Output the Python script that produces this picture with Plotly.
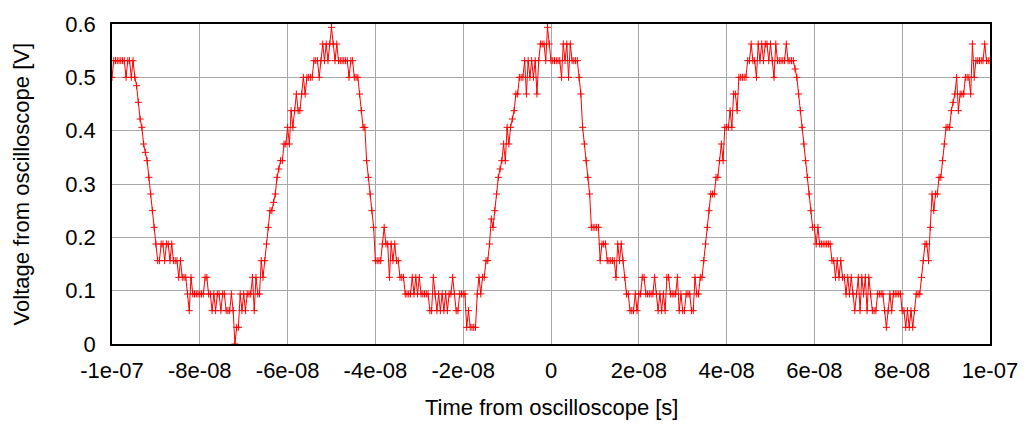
import plotly.graph_objects as go

# Oscilloscope record: 501 samples, 0.4 ns apart, starting at -100 ns
T_START = -1e-07
T_STEP = 4e-10
LSB_V = 1.0 / 64.0  # volts per ADC code

# ADC codes (units of 1/64 V), in blocks of 50 samples
codes_000 = [32, 34, 34, 34, 34, 34, 34, 34, 32, 34, 34, 32, 34, 32, 31, 29, 27, 26, 24, 23,
             22, 20, 18, 16, 14, 12, 10, 10, 12, 12, 10, 12, 12, 10, 12, 10, 10, 10, 8, 10,
             8, 8, 8, 6, 4, 8, 6, 6, 6, 6]
codes_050 = [6, 6, 6, 8, 8, 6, 6, 4, 6, 4, 6, 6, 4, 6, 6, 4, 4, 4, 6, 4,
             0, 2, 2, 6, 4, 6, 4, 6, 6, 6, 8, 4, 8, 6, 6, 10, 8, 10, 12, 14,
             16, 16, 17, 18, 20, 21, 22, 22, 24, 24]
codes_100 = [26, 24, 28, 26, 28, 30, 28, 28, 30, 32, 30, 32, 32, 32, 32, 34, 34, 34, 32, 34,
             36, 34, 36, 34, 36, 38, 36, 34, 36, 34, 34, 34, 34, 34, 34, 32, 34, 34, 32, 32,
             32, 30, 28, 26, 26, 22, 20, 18, 16, 14]
codes_150 = [10, 10, 10, 10, 12, 14, 12, 12, 8, 12, 10, 12, 10, 10, 8, 8, 8, 6, 6, 6,
             6, 8, 6, 8, 6, 8, 6, 6, 6, 6, 6, 4, 4, 8, 6, 4, 6, 4, 6, 4,
             6, 4, 6, 6, 8, 6, 4, 4, 6, 6]
codes_200 = [6, 6, 2, 4, 2, 2, 2, 2, 6, 8, 6, 8, 8, 10, 10, 12, 15, 14, 16, 18,
             20, 21, 22, 24, 22, 26, 24, 26, 27, 28, 30, 30, 32, 32, 32, 34, 30, 34, 32, 34,
             32, 34, 30, 34, 36, 36, 36, 34, 38, 36]
codes_250 = [34, 34, 34, 34, 34, 34, 32, 36, 34, 36, 32, 36, 34, 34, 34, 34, 32, 30, 26, 24,
             22, 20, 18, 14, 14, 14, 14, 14, 10, 12, 12, 12, 10, 10, 10, 10, 10, 8, 12, 10,
             12, 10, 8, 6, 6, 4, 4, 4, 6, 4]
codes_300 = [6, 6, 8, 8, 6, 6, 6, 6, 6, 8, 6, 4, 6, 4, 6, 4, 8, 8, 6, 6,
             6, 6, 8, 4, 6, 4, 4, 6, 6, 6, 4, 4, 8, 6, 6, 8, 8, 10, 12, 14,
             16, 18, 18, 18, 20, 20, 22, 24, 22, 26]
codes_350 = [26, 26, 28, 26, 30, 30, 28, 32, 32, 32, 32, 32, 34, 34, 36, 34, 34, 32, 36, 34,
             36, 34, 36, 36, 34, 36, 34, 32, 36, 34, 34, 34, 34, 34, 36, 34, 34, 34, 34, 33,
             32, 30, 28, 26, 24, 22, 20, 18, 16, 14]
codes_400 = [14, 12, 14, 12, 12, 12, 12, 12, 12, 12, 10, 10, 8, 10, 8, 10, 8, 8, 6, 8,
             6, 8, 6, 4, 6, 8, 4, 8, 6, 8, 4, 8, 6, 4, 4, 4, 6, 6, 6, 6,
             4, 2, 4, 6, 4, 6, 6, 6, 6, 6]
codes_450 = [4, 4, 2, 4, 2, 4, 2, 4, 6, 6, 6, 8, 10, 12, 12, 10, 14, 18, 16, 18,
             18, 20, 20, 22, 24, 26, 26, 26, 28, 29, 30, 32, 28, 30, 30, 30, 32, 32, 32, 30,
             36, 32, 34, 34, 34, 34, 34, 36, 34, 34, 34]

x_tickvals = [-1e-07, -8e-08, -6e-08, -4e-08, -2e-08, 0, 2e-08, 4e-08, 6e-08, 8e-08, 1e-07]
x_ticktext = ["-1e-07", "-8e-08", "-6e-08", "-4e-08", "-2e-08", "0",
              "2e-08", "4e-08", "6e-08", "8e-08", "1e-07"]
y_tickvals = [0, 0.1, 0.2, 0.3, 0.4, 0.5, 0.6]
y_ticktext = ["0", "0.1", "0.2", "0.3", "0.4", "0.5", "0.6"]

codes = (codes_000 + codes_050 + codes_100 + codes_150 + codes_200 +
         codes_250 + codes_300 + codes_350 + codes_400 + codes_450)
time_s = [T_START + k * T_STEP for k in range(len(codes))]
volts = [c * LSB_V for c in codes]

FONT = "Liberation Sans, Arial, sans-serif"
FS = 22

fig = go.Figure()
fig.add_trace(go.Scatter(
    x=time_s, y=volts, mode="lines+markers",
    line=dict(color="#ff0000", width=1),
    marker=dict(symbol="cross-thin", size=5, line=dict(color="#ff0000", width=1)),
    showlegend=False,
))

axis_common = dict(
    showgrid=True, gridcolor="#a8a8a8", gridwidth=1,
    showline=True, linecolor="black", linewidth=1.5, mirror=True,
    ticks="", zeroline=False,
    tickfont=dict(family=FONT, size=FS, color="black"),
)
fig.update_xaxes(range=[-1e-07, 1e-07], tickmode="array", tickvals=x_tickvals,
                 ticktext=x_ticktext, ticklabelstandoff=6, **axis_common)
fig.update_yaxes(range=[0, 0.6], tickmode="array", tickvals=y_tickvals,
                 ticktext=y_ticktext, ticklabelstandoff=10, **axis_common)

fig.update_layout(
    width=1030, height=425,
    margin=dict(l=112, r=36, t=20, b=81),
    paper_bgcolor="white", plot_bgcolor="white",
    font=dict(family=FONT, size=FS, color="black"),
    annotations=[
        dict(text="Time from oscilloscope [s]", xref="paper", yref="paper",
             x=0.5, y=-64 / 324, xanchor="center", yanchor="middle",
             showarrow=False, font=dict(family=FONT, size=FS, color="black")),
        dict(text="Voltage from oscilloscope [V]", xref="paper", yref="paper",
             x=-91 / 882, y=0.5, xanchor="center", yanchor="middle", textangle=-90,
             showarrow=False, font=dict(family=FONT, size=FS, color="black")),
    ],
)

fig.write_html("out.html")
